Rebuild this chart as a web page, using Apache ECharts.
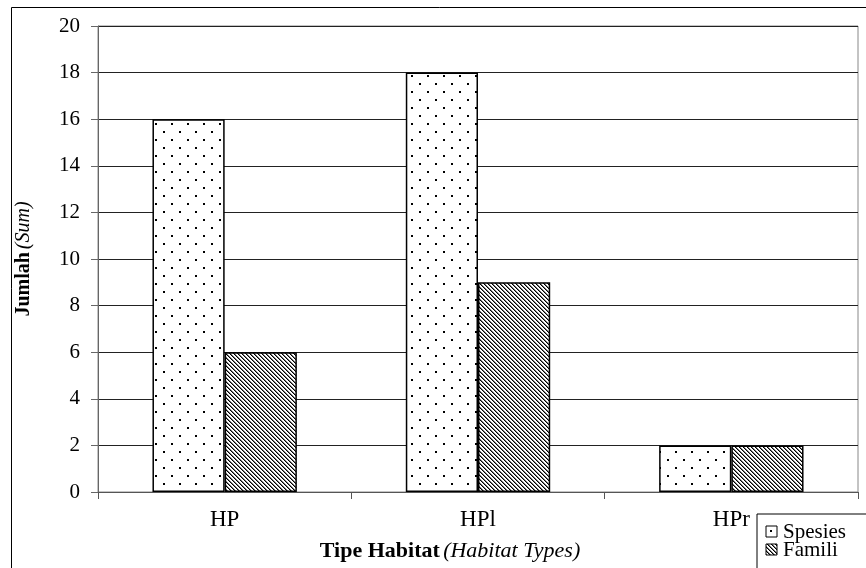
<!DOCTYPE html>
<html><head><meta charset="utf-8">
<script src="https://cdn.jsdelivr.net/npm/echarts@6/dist/echarts.min.js"></script>
<style>html,body{margin:0;padding:0;background:#fff}#c{width:866px;height:568px}</style>
</head><body><div id="c"></div>
<script>
const categories = ['HP', 'HPl', 'HPr'];
const spesies = [16, 18, 2];
const famili = [6, 9, 2];
const yTicks = [0, 2, 4, 6, 8, 10, 12, 14, 16, 18, 20];
const seriesNames = ['Spesies', 'Famili'];

function dotPattern() {
  const c = document.createElement('canvas');
  c.width = 16; c.height = 16;
  const g = c.getContext('2d');
  g.fillStyle = '#fff'; g.fillRect(0, 0, 16, 16);
  g.fillStyle = '#000';
  g.fillRect(3, 3, 2, 2);
  g.fillRect(11, 11, 2, 2);
  return c;
}
function hatchPattern() {
  const c = document.createElement('canvas');
  c.width = 8; c.height = 8;
  const g = c.getContext('2d');
  g.fillStyle = '#fff'; g.fillRect(0, 0, 8, 8);
  for (let i = 0; i < 8; i++) {
    g.fillStyle = '#000';
    g.fillRect(i, i, 1, 1);
    g.fillRect((i + 4) % 8, i, 1, 1);
    g.fillStyle = '#777';
    g.fillRect((i + 1) % 8, i, 1, 1);
    g.fillRect((i + 5) % 8, i, 1, 1);
  }
  return c;
}
const dots = dotPattern(), hatch = hatchPattern();

const chart = echarts.init(document.getElementById('c'), null, {renderer: 'canvas'});
const font = '"Liberation Serif", "Times New Roman", serif';
chart.setOption({
  animation: false,
  backgroundColor: '#fff',
  textStyle: {fontFamily: font},
  grid: {left: 98, right: 8, top: 26, bottom: 76, show: true, borderColor: '#888', borderWidth: 1},
  xAxis: {
    type: 'category', data: categories,
    axisLine: {lineStyle: {color: '#555', width: 1}},
    axisTick: {show: true, alignWithLabel: false, length: 7, lineStyle: {color: '#555'}},
    axisLabel: {color: '#000', fontSize: 23, fontFamily: font, margin: 16}
  },
  yAxis: {
    type: 'value', min: yTicks[0], max: yTicks[yTicks.length - 1], interval: 2,
    axisLine: {show: true, lineStyle: {color: '#666'}},
    axisTick: {show: true, length: 7, lineStyle: {color: '#666'}},
    axisLabel: {color: '#000', fontSize: 21, fontFamily: font, margin: 18},
    splitLine: {lineStyle: {color: '#222', width: 1}},
    name: '{b|Jumlah} {i|(Sum)}', nameLocation: 'middle', nameRotate: 90, nameGap: 64,
    nameTextStyle: {rich: {b: {fontWeight: 'bold', fontSize: 20, fontFamily: font, color: '#000'}, i: {fontStyle: 'italic', fontSize: 20, fontFamily: font, color: '#000'}}}
  },
  legend: {show: false},
  series: [
    {name: seriesNames[0], type: 'bar', data: spesies, barGap: '0%', barCategoryGap: '43%',
     itemStyle: {color: {image: dots, repeat: 'repeat'}, borderColor: '#000', borderWidth: 1.5}},
    {name: seriesNames[1], type: 'bar', data: famili,
     itemStyle: {color: {image: hatch, repeat: 'repeat'}, borderColor: '#000', borderWidth: 1.5}}
  ],
  graphic: [
    {type: 'rect', left: 9, top: 5, shape: {width: 900, height: 600}, style: {fill: 'none', stroke: '#000', lineWidth: 1}, silent: true, z: 100},
    {type: 'text', x: 450, y: 551, style: {
      align: 'center', verticalAlign: 'middle',
      rich: {b: {fontWeight: 'bold', fontSize: 22, fontFamily: font, fill: '#000'}, i: {fontStyle: 'italic', fontSize: 22, fontFamily: font, fill: '#000'}},
      text: '{b|Tipe Habitat} {i|(Habitat Types)}'}},
    {type: 'group', x: 757, y: 514, children: [
      {type: 'rect', shape: {x: 0, y: 0, width: 150, height: 80}, style: {fill: '#fff', stroke: '#000', lineWidth: 1}},
      {type: 'rect', shape: {x: 9, y: 12, width: 11, height: 11}, style: {fill: '#fff', stroke: '#000', lineWidth: 1}},
      {type: 'rect', shape: {x: 13, y: 16, width: 2, height: 2}, style: {fill: '#000'}},
      {type: 'rect', shape: {x: 9, y: 30, width: 11, height: 11}, style: {fill: {image: hatch, repeat: 'repeat'}, stroke: '#000', lineWidth: 1}},
      {type: 'text', x: 26, y: 18, style: {text: seriesNames[0], font: '21px ' + font, fill: '#000', verticalAlign: 'middle'}},
      {type: 'text', x: 26, y: 36, style: {text: seriesNames[1], font: '21px ' + font, fill: '#000', verticalAlign: 'middle'}}
    ]}
  ]
});
</script></body></html>
